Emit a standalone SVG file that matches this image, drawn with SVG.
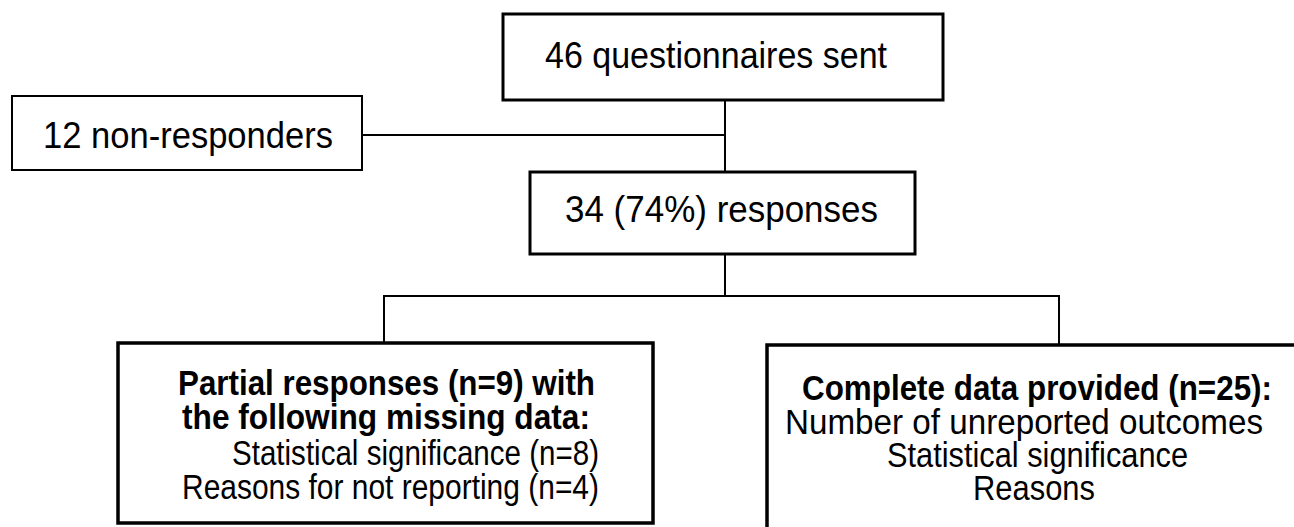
<svg xmlns="http://www.w3.org/2000/svg" width="1294" height="527" viewBox="0 0 1294 527">
<style>
.box{fill:#fff;stroke:#000;stroke-width:3}
.thin{stroke-width:2}
.thick{stroke-width:3.5}
.conn{fill:none;stroke:#000;stroke-width:2}
text{font-family:"Liberation Sans",Arial,sans-serif;fill:#000}
.t{font-size:37px}
.b{font-size:35px}
.bb{font-size:35px;font-weight:bold}
</style>
<rect width="1294" height="527" fill="#fff"/>
<g id="connectors">
<polyline class="conn" points="362,135 725,135"/>
<polyline class="conn" points="725,100 725,172"/>
<polyline class="conn" points="725,254 725,296"/>
<polyline class="conn" points="384,343 384,296 1059,296 1059,345"/>
</g>
<g id="sent">
<rect class="box" x="503" y="14" width="440" height="86"/>
<text class="t" x="545" y="68" textLength="342" lengthAdjust="spacingAndGlyphs">46 questionnaires sent</text>
</g>
<g id="nonresp">
<rect class="box thin" x="12" y="96" width="350" height="74"/>
<text class="t" x="43" y="148" textLength="290" lengthAdjust="spacingAndGlyphs">12 non-responders</text>
</g>
<g id="responses">
<rect class="box" x="530" y="172" width="385" height="82"/>
<text class="t" x="565" y="222" textLength="313" lengthAdjust="spacingAndGlyphs">34 (74%) responses</text>
</g>
<g id="partial">
<rect class="box thick" x="118" y="343" width="535" height="180"/>
<text class="bb" x="178" y="395" textLength="417" lengthAdjust="spacingAndGlyphs">Partial responses (n=9) with</text>
<text class="bb" x="182" y="429" textLength="408" lengthAdjust="spacingAndGlyphs">the following missing data:</text>
<text class="b" x="232" y="465" textLength="367" lengthAdjust="spacingAndGlyphs">Statistical significance (n=8)</text>
<text class="b" x="182" y="499" textLength="417" lengthAdjust="spacingAndGlyphs">Reasons for not reporting (n=4)</text>
</g>
<g id="complete">
<rect class="box thick" x="767" y="345" width="540" height="190"/>
<text class="bb" x="802" y="400" textLength="470" lengthAdjust="spacingAndGlyphs">Complete data provided (n=25):</text>
<text class="b" x="785" y="434" textLength="478" lengthAdjust="spacingAndGlyphs">Number of unreported outcomes</text>
<text class="b" x="887" y="467" textLength="301" lengthAdjust="spacingAndGlyphs">Statistical significance</text>
<text class="b" x="973" y="500" textLength="122" lengthAdjust="spacingAndGlyphs">Reasons</text>
</g>
</svg>
